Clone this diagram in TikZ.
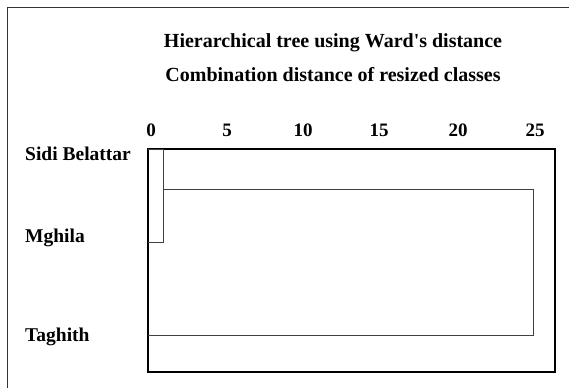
\documentclass[tikz,border=0pt]{standalone}
\usepackage{fontspec}
\setmainfont{Liberation Serif}
\begin{document}
\begin{tikzpicture}[x=1pt,y=-1pt,
  lbl/.style={font=\bfseries\fontsize{19.5}{22}\selectfont, inner sep=0pt},
  title/.style={font=\bfseries\fontsize{20}{22}\selectfont, inner sep=0pt},
  tick/.style={font=\bfseries\fontsize{19}{21}\selectfont, inner sep=0pt},
  frame/.style={line width=1pt, draw=black!80},
  axisbox/.style={line width=2.6pt, draw=black},
  link/.style={line width=0.9pt, draw=black!75}]
\useasboundingbox (0,0) rectangle (569,388);
% outer frame, open to the right and bottom
\draw[frame] (7.5,388) -- (7.5,7.5) -- (569,7.5);
% titles
\node[title] (t1) at (333,43) {Hierarchical tree using Ward\textquotesingle s distance};
\node[title] (t2) at (333,75) {Combination distance of resized classes};
% scale
\foreach \v/\x in {0/151,5/227,10/303,15/379,20/458,25/535}
  \node[tick] (k\v) at (\x,130) {\v};
% axis box
\draw[axisbox] (148,149) rectangle (555,372);
% leaves and joins
\coordinate (sb) at (148,149);
\coordinate (mg) at (148,242);
\coordinate (ta) at (148,335);
\coordinate (j1a) at (163,149);
\coordinate (j1b) at (163,242);
\coordinate (j1) at (163,189);
\coordinate (j2a) at (533,189);
\coordinate (j2b) at (533,335);
\draw[link] (sb) -- (j1a) -- (j1b) -- (mg);
\draw[link] (j1) -- (j2a) -- (j2b) -- (ta);
% case labels
\node[lbl, anchor=west] (l1) at (25,154) {Sidi Belattar};
\node[lbl, anchor=west] (l2) at (25,238) {Mghila};
\node[lbl, anchor=west] (l3) at (25,337) {Taghith};
\end{tikzpicture}
\end{document}
